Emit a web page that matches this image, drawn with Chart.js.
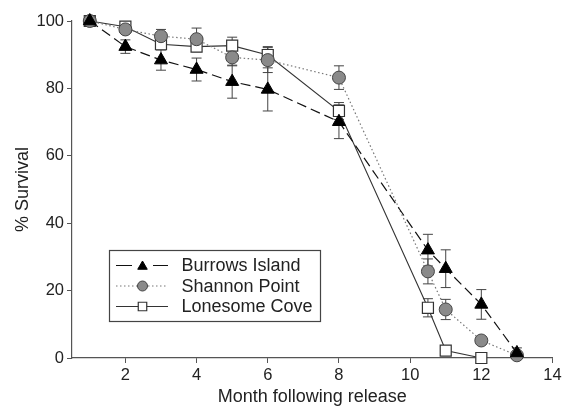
<!DOCTYPE html>
<html>
<head>
<meta charset="utf-8">
<script src="https://cdn.jsdelivr.net/npm/chart.js@4.4.1/dist/chart.umd.min.js"></script>
<style>
  html, body { margin: 0; padding: 0; background: #fff; }
  #wrap { width: 566px; height: 408px; position: relative; }
</style>
</head>
<body>
<div id="wrap"><canvas id="c" width="566" height="408"></canvas></div>
<script>
// ---- Data ----
const seriesNames = ["Burrows Island", "Shannon Point", "Lonesome Cove"];
const monthsBurrows = [1, 2, 3, 4, 5, 6, 8, 10.5, 11, 12, 13];
const survivalBurrows = [100, 92.4, 88.4, 85.6, 82.0, 79.7, 70.1, 32.0, 26.5, 15.9, 1.5];
const errBurrows = [0, 2, 3, 3.4, 4.9, 6.4, 5, 4.7, 5.6, 4.4, 1.5];

const monthsShannon = [1, 2, 3, 4, 5, 6, 8, 10.5, 11, 12, 13];
const survivalShannon = [100, 97.5, 95.5, 94.6, 89.2, 88.4, 83.2, 25.7, 14.4, 5.2, 0.8];
const errShannon = [0, 1, 2, 3.3, 2.5, 3.7, 3.5, 3.7, 3, 1, 0.5];

const monthsLonesome = [1, 2, 3, 4, 5, 6, 8, 10.5, 11, 12];
const survivalLonesome = [100, 98.3, 93.1, 92.4, 92.7, 89.9, 73.3, 14.9, 2.2, 0];
const errLonesome = [0, 1, 1.5, 1.5, 2.5, 2.5, 2.5, 2.7, 0, 0];

const xTicks = [2, 4, 6, 8, 10, 12, 14];
const yTicks = [0, 20, 40, 60, 80, 100];

function pts(xs, ys) { return xs.map((x, i) => ({ x: x, y: ys[i] })); }

const styles = [
  { line: '#111', dash: [10, 5], lw: 1.2, ps: 'triangle', r: 7.5, fill: '#000', border: '#000', bw: 1 },
  { line: '#777', dash: [1.5, 2.5], lw: 1.2, ps: 'circle', r: 6.5, fill: '#8a8a8a', border: '#444', bw: 1 },
  { line: '#333', dash: [], lw: 1.1, ps: 'rect', r: 7.8, fill: '#fff', border: '#333', bw: 1.2 }
];
const errs = [errBurrows, errShannon, errLonesome];

const datasets = [
  pts(monthsBurrows, survivalBurrows),
  pts(monthsShannon, survivalShannon),
  pts(monthsLonesome, survivalLonesome)
].map((d, i) => ({
  label: seriesNames[i],
  data: d,
  showLine: true,
  clip: false,
  borderColor: styles[i].line,
  borderDash: styles[i].dash,
  borderWidth: styles[i].lw,
  pointStyle: styles[i].ps,
  pointRadius: styles[i].r,
  pointHoverRadius: styles[i].r,
  pointBackgroundColor: styles[i].fill,
  pointBorderColor: styles[i].border,
  pointBorderWidth: styles[i].bw,
  tension: 0
}));

const errorBarPlugin = {
  id: 'errorBars',
  beforeDatasetsDraw(chart) {
    const ctx = chart.ctx;
    const xs = chart.scales.x, ys = chart.scales.y;
    ctx.save();
    ctx.strokeStyle = '#444';
    ctx.lineWidth = 1;
    ctx.setLineDash([]);
    chart.data.datasets.forEach((ds, di) => {
      ds.data.forEach((p, i) => {
        const e = errs[di][i];
        if (!e) return;
        const px = xs.getPixelForValue(p.x);
        const y1 = ys.getPixelForValue(Math.min(100, p.y + e));
        const y2 = ys.getPixelForValue(Math.max(0, p.y - e));
        ctx.beginPath();
        ctx.moveTo(px, y1); ctx.lineTo(px, y2);
        ctx.moveTo(px - 5, y1); ctx.lineTo(px + 5, y1);
        ctx.moveTo(px - 5, y2); ctx.lineTo(px + 5, y2);
        ctx.stroke();
      });
    });
    ctx.restore();
  }
};

function drawMarker(ctx, style, x, y, r) {
  ctx.save();
  ctx.fillStyle = style.fill;
  ctx.strokeStyle = style.border;
  ctx.lineWidth = style.bw;
  ctx.setLineDash([]);
  ctx.beginPath();
  if (style.ps === 'triangle') {
    ctx.moveTo(x, y - r);
    ctx.lineTo(x + r * Math.sin(2 * Math.PI / 3), y - r * Math.cos(2 * Math.PI / 3));
    ctx.lineTo(x + r * Math.sin(4 * Math.PI / 3), y - r * Math.cos(4 * Math.PI / 3));
    ctx.closePath();
  } else if (style.ps === 'circle') {
    ctx.arc(x, y, r, 0, Math.PI * 2);
  } else {
    const s = r * Math.SQRT1_2;
    ctx.rect(x - s, y - s, 2 * s, 2 * s);
  }
  ctx.fill();
  ctx.stroke();
  ctx.restore();
}

const legendPlugin = {
  id: 'customLegend',
  afterDraw(chart) {
    const ctx = chart.ctx;
    ctx.save();
    ctx.strokeStyle = '#444';
    ctx.lineWidth = 1.2;
    ctx.strokeRect(109.5, 250.5, 211, 71);
    const rows = [265.5, 286, 306.5];
    const legR = [5.5, 5, 6];
    rows.forEach((ry, i) => {
      const st = styles[i];
      ctx.save();
      ctx.strokeStyle = st.line;
      ctx.lineWidth = st.lw;
      ctx.setLineDash(st.dash);
      ctx.beginPath();
      if (i === 0) {
        ctx.setLineDash([]);
        ctx.moveTo(116, ry); ctx.lineTo(132, ry);
        ctx.moveTo(153, ry); ctx.lineTo(168, ry);
      } else {
        ctx.moveTo(116, ry); ctx.lineTo(168, ry);
      }
      ctx.stroke();
      ctx.restore();
      drawMarker(ctx, st, 142.5, ry + (i === 0 ? 1 : 0), legR[i]);
      ctx.fillStyle = '#222';
      ctx.font = '18px "Liberation Sans", Arial, sans-serif';
      ctx.textBaseline = 'middle';
      ctx.textAlign = 'left';
      ctx.fillText(seriesNames[i], 181.5, ry + 1);
    });
    ctx.restore();
  }
};

new Chart(document.getElementById('c'), {
  type: 'scatter',
  data: { datasets: datasets },
  plugins: [errorBarPlugin, legendPlugin],
  options: {
    responsive: false,
    animation: false,
    events: [],
    layout: { padding: { top: 21, right: 13.5, left: 0, bottom: 0 } },
    plugins: { legend: { display: false }, tooltip: { enabled: false } },
    scales: {
      x: {
        type: 'linear',
        min: 0.5, max: 14,
        afterBuildTicks(scale) { scale.ticks = xTicks.map(v => ({ value: v })); },
        afterFit(scale) { scale.height = 50; },
        grid: { drawOnChartArea: false, drawTicks: true, tickLength: 5, color: '#555', tickWidth: 1 },
        border: { display: true, color: '#555', width: 1.2 },
        ticks: { color: '#222', font: { family: '"Liberation Sans", Arial, sans-serif', size: 16.5 }, padding: 3, maxRotation: 0, autoSkip: false },
        title: { display: true, text: 'Month following release', color: '#222', font: { family: '"Liberation Sans", Arial, sans-serif', size: 18 }, padding: { top: 0, bottom: 0 } }
      },
      y: {
        type: 'linear',
        min: 0, max: 100,
        afterBuildTicks(scale) { scale.ticks = yTicks.map(v => ({ value: v })); },
        afterFit(scale) { scale.width = 72; },
        grid: { drawOnChartArea: false, drawTicks: true, tickLength: 5, color: '#555', tickWidth: 1 },
        border: { display: true, color: '#555', width: 1.2 },
        ticks: { color: '#222', font: { family: '"Liberation Sans", Arial, sans-serif', size: 16.5 }, padding: 3 },
        title: { display: true, text: '% Survival', color: '#222', font: { family: '"Liberation Sans", Arial, sans-serif', size: 18 }, padding: { top: 12, bottom: 0 } }
      }
    }
  }
});
</script>
</body>
</html>
